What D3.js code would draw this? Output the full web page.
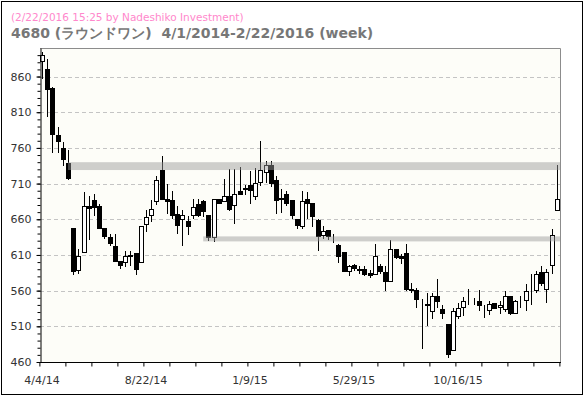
<!DOCTYPE html>
<html lang="en">
  <head>
    <meta charset="UTF-8">
    <title>4680 weekly</title>
    <style>
      body { margin: 0; background: #fff; }
      svg { display: block; }
      text { font-family: "DejaVu Sans", Verdana, sans-serif; }
    </style>
    <script src="https://d3js.org/d3.v7.min.js"></script>
  </head>
  <body>
    <script>
      // weekly OHLC, first week ending 4/4/14
      var opens = [882, 871, 844, 778, 760, 739, 648, 589, 614, 679,
		   687, 679, 648, 635, 623, 602, 600, 610, 613, 600,
		   653, 666, 685, 729, 689, 687, 668, 661, 658, 666,
		   682, 686, 666, 635, 688, 686, 692, 680, 700, 704,
		   708, 692, 712, 726, 736, 715, 690, 695, 687, 661,
		   651, 689, 683, 659, 638, 645, 637, 624, 614, 587,
		   596, 591, 590, 585, 584, 595, 586, 573, 619, 609,
		   613, 562, 561, 536, 540, 532, 553, 534, 513, 477,
		   525, 537, 548, 546, 546, 535, 533, 542, 537, 534,
		   552, 528, 545, 547, 550, 561, 586, 562, 596, 673];
      var highs = [895, 885, 845, 789, 768, 757, 648, 618, 698, 692,
		   696, 681, 648, 640, 640, 602, 616, 616, 613, 650,
		   673, 687, 721, 749, 709, 699, 679, 673, 664, 689,
		   689, 687, 666, 689, 688, 716, 731, 731, 733, 708,
		   727, 732, 770, 742, 741, 720, 703, 699, 687, 661,
		   699, 698, 683, 661, 650, 645, 640, 626, 614, 596,
		   598, 595, 595, 589, 626, 598, 594, 631, 619, 612,
		   626, 571, 563, 548, 556, 556, 576, 540, 513, 535,
		   542, 551, 562, 550, 561, 540, 545, 543, 546, 559,
		   553, 547, 552, 570, 584, 588, 594, 591, 647, 736];
      var lows = [857, 804, 753, 753, 734, 715, 582, 584, 614, 631,
		  664, 646, 632, 623, 600, 591, 593, 595, 582, 600,
		  642, 656, 680, 687, 668, 660, 640, 622, 638, 661,
		  663, 663, 629, 628, 683, 684, 671, 653, 695, 694,
		  682, 687, 707, 711, 705, 667, 669, 678, 661, 646,
		  646, 661, 649, 616, 632, 631, 627, 599, 586, 580,
		  588, 584, 580, 578, 584, 583, 560, 572, 605, 598,
		  560, 556, 535, 478, 510, 520, 535, 520, 466, 475,
		  520, 524, 540, 540, 532, 521, 526, 534, 527, 530,
		  526, 527, 535, 532, 540, 556, 566, 542, 584, 672];
      var closes = [890, 842, 780, 770, 745, 718, 587, 608, 679, 676,
		    677, 648, 636, 627, 601, 596, 608, 608, 590, 650,
		    663, 675, 715, 689, 685, 666, 652, 666, 651, 677,
		    666, 672, 635, 689, 683, 692, 675, 695, 696, 702,
		    701, 711, 729, 736, 711, 687, 689, 683, 666, 652,
		    686, 683, 665, 637, 644, 637, 636, 609, 588, 595,
		    592, 589, 584, 582, 608, 588, 573, 619, 607, 606,
		    562, 561, 548, 536, 541, 553, 545, 528, 471, 532,
		    535, 546, 548, 545, 540, 535, 541, 536, 540, 553,
		    528, 545, 545, 559, 550, 584, 571, 586, 638, 689];

      var xTickLabels = ["4/4/14", "8/22/14", "1/9/15", "5/29/15", "10/16/15"];
      var yTicks = [460, 510, 560, 610, 660, 710, 760, 810, 860];

      // shaded price zones: first week, low, high
      var zoneFrom = ["5/9/14", "11/7/14"];
      var zoneLow = [729, 629];
      var zoneHigh = [740, 636];

      var subTitle = "(2/22/2016 15:25 by Nadeshiko Investment)";
      var title = "4680 (ラウンドワン)  4/1/2014-2/22/2016 (week)";

      var fmt = d3.timeFormat("%-m/%-d/%y");
      var firstWeek = new Date(2014, 3, 4);
      var weeks = opens.map(function (d, i) {
	return fmt(d3.timeDay.offset(firstWeek, 7 * i));
      });

      var candles = weeks.map(function (w, i) {
	return { week: w, o: opens[i], h: highs[i], l: lows[i], c: closes[i] };
      });

      var width = 586, height = 398;
      var pLeft = 40, pRight = 560, pTop = 48, pBottom = 362;

      var x = d3.scaleBand().domain(weeks).range([39.4, 559.4]);
      var xi = d3.scaleLinear().domain([0, weeks.length]).range([39.4, 559.4]);
      var y = d3.scaleLinear().domain([460, 900]).range([pBottom, pTop]);
      var cx = function (w) { return x(w) + x.bandwidth() / 2; };

      var svg = d3.select("body").append("svg")
	  .attr("width", width)
	  .attr("height", height);

      // outer frame
      svg.append("rect").attr("x", 1.5).attr("y", 1.5)
	.attr("width", 581).attr("height", 393)
	.attr("fill", "#fff").attr("stroke", "#000");

      svg.append("text").attr("x", 11).attr("y", 21)
	.attr("font-size", 10.5).attr("fill", "#ff88cc")
	.text(subTitle);
      svg.append("text").attr("x", 11).attr("y", 38)
	.attr("font-size", 14).attr("font-weight", "bold")
	.attr("fill", "#777").style("white-space", "pre")
	.text(title);

      // plot background
      svg.append("rect").attr("x", pLeft).attr("y", pTop)
	.attr("width", pRight - pLeft).attr("height", pBottom - pTop)
	.attr("fill", "#fdfdf8");

      // grid
      svg.append("g").selectAll("line")
	.data(yTicks.filter(function (d) { return d > 460; }))
	.enter().append("line")
	.attr("x1", pLeft).attr("x2", pRight)
	.attr("y1", function (d) { return Math.round(y(d)) + 0.5; })
	.attr("y2", function (d) { return Math.round(y(d)) + 0.5; })
	.attr("stroke", "#c4c4c4")
	.attr("stroke-dasharray", "4,3");

      // plot frame top / right
      svg.append("path")
	.attr("d", "M" + pLeft + "," + (pTop + 0.5) + "H" + (pRight + 0.5) + "V" + pBottom)
	.attr("fill", "none").attr("stroke", "#8c8c8c");

      // candles
      var g = svg.append("g").attr("shape-rendering", "crispEdges");
      var cs = g.selectAll("g").data(candles).enter().append("g");
      cs.append("line")
	.attr("x1", function (d) { return Math.round(cx(d.week)) + 0.5; })
	.attr("x2", function (d) { return Math.round(cx(d.week)) + 0.5; })
	.attr("y1", function (d) { return y(d.h); })
	.attr("y2", function (d) { return y(d.l); })
	.attr("stroke", "#000");
      cs.append("rect")
	.attr("x", function (d) { return Math.round(cx(d.week)) - 1.5; })
	.attr("y", function (d) { return Math.round(y(Math.max(d.o, d.c))) + 0.5; })
	.attr("width", 4)
	.attr("height", function (d) {
	  return Math.max(0, Math.round(y(Math.min(d.o, d.c))) - Math.round(y(Math.max(d.o, d.c))));
	})
	.attr("fill", function (d) { return d.c > d.o ? "#fff" : "#000"; })
	.attr("stroke", "#000");

      // zones
      svg.append("g").selectAll("rect").data(zoneFrom).enter().append("rect")
	.attr("x", function (d) { return cx(d); })
	.attr("y", function (d, i) { return y(zoneHigh[i]); })
	.attr("width", function (d) { return pRight - cx(d); })
	.attr("height", function (d, i) { return y(zoneLow[i]) - y(zoneHigh[i]); })
	.attr("fill", "#9a9a9a").attr("fill-opacity", 0.47);

      // y axis
      var yAxis = d3.axisLeft(y).tickValues(yTicks).tickSize(4).tickPadding(5).tickSizeOuter(0);
      var ya = svg.append("g").attr("transform", "translate(" + (pLeft + 0.5) + ",0)").call(yAxis);
      ya.selectAll("text").attr("font-size", 11).attr("fill", "#333")
	.style("font-family", "'DejaVu Sans', Verdana, sans-serif");
      var yMinor = d3.axisLeft(y).tickValues(d3.range(460, 900, 10))
	  .tickSize(3).tickFormat("").tickSizeOuter(0);
      svg.append("g").attr("transform", "translate(" + (pLeft + 0.5) + ",0)").call(yMinor)
	.select(".domain").remove();

      // x axis
      var xAxis = d3.axisBottom(x).tickValues(xTickLabels).tickSize(0).tickPadding(14);
      var xa = svg.append("g").attr("transform", "translate(0," + (pBottom + 0.5) + ")").call(xAxis);
      xa.select(".domain").remove();
      xa.selectAll("text").attr("font-size", 11).attr("fill", "#333")
	.style("font-family", "'DejaVu Sans', Verdana, sans-serif");
      var xMinor = d3.axisBottom(xi).tickValues(d3.range(0, weeks.length + 1, 5))
	  .tickSize(4).tickFormat("").tickSizeOuter(0);
      svg.append("g").attr("transform", "translate(0," + (pBottom + 0.5) + ")").call(xMinor)
	.select(".domain").remove();
      svg.append("line").attr("x1", pLeft).attr("x2", pRight + 1)
	.attr("y1", pBottom + 0.5).attr("y2", pBottom + 0.5).attr("stroke", "#000");
    </script>
  </body>
</html>
